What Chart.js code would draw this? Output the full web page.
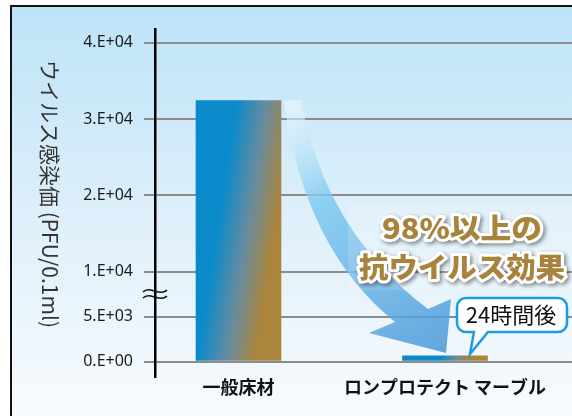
<!DOCTYPE html>
<html lang="ja">
<head>
<meta charset="utf-8">
<title>ウイルス感染価</title>
<script src="https://cdn.jsdelivr.net/npm/chart.js@4/dist/chart.umd.min.js"></script>
<style>
  html, body { margin: 0; padding: 0; background: #fff; }
  #chart { display: block; }
</style>
</head>
<body>
<canvas id="chart" width="572" height="416"></canvas>
<script>
const categories = ['一般床材', 'ロンプロテクト マーブル'];
const virusTiter = [32400, 620];
const tickValues = [0, 5000, 10000, 20000, 30000, 40000];
const tickLabels = ['0.E+00', '5.E+03', '1.E+04', '2.E+04', '3.E+04', '4.E+04'];
const yTitle = 'ウイルス感染価 (PFU/0.1ml)';
const calloutLines = ['98%以上の', '抗ウイルス効果'];
const bubbleText = '24時間後';

// broken axis: the part below 1.E+04 is drawn a bit stretched
const BREAK_AT = 10000;
const LOW_UNITS = 1.18;
function toAxis(v) {
  return v <= BREAK_AT ? v / BREAK_AT * LOW_UNITS : LOW_UNITS + (v - BREAK_AT) / 10000;
}

const BAR_W = 85;
const JP = '"Noto Sans CJK JP", "Noto Sans", sans-serif';

function barGeom(chart, i) {
  const { x, y } = chart.scales;
  const cx = x.getPixelForValue(i + 1);
  return {
    left: cx - BAR_W / 2,
    right: cx + BAR_W / 2,
    cx: cx,
    top: y.getPixelForValue(toAxis(virusTiter[i])),
    bottom: y.getPixelForValue(0)
  };
}

// blue -> gold, along a slightly tilted diagonal
function barFill(ctx) {
  const chart = ctx.chart;
  if (!chart.chartArea || !chart.scales.x) return '#0a8acb';
  const b = barGeom(chart, ctx.dataIndex);
  const h = b.bottom - b.top;
  const x0 = b.left + 0.44 * BAR_W - 0.14 * h;
  const len = 30 + 0.107 * h;
  const g = chart.ctx.createLinearGradient(x0, b.bottom, x0 + len * 0.988, b.bottom + len * 0.152);
  g.addColorStop(0, '#0a8acb');
  g.addColorStop(0.5, '#668c9f');
  g.addColorStop(1, '#ab853c');
  return g;
}

const backdrop = {
  id: 'backdrop',
  beforeDraw(chart) {
    const c = chart.ctx;
    c.save();
    c.fillStyle = '#fff';
    c.fillRect(0, 0, chart.width, chart.height);
    const g = c.createLinearGradient(0, 6, 0, chart.height);
    g.addColorStop(0, '#bde3f8');
    g.addColorStop(0.5, '#ddeffa');
    g.addColorStop(1, '#f8fbfe');
    c.fillStyle = g;
    c.fillRect(11, 6, chart.width - 11, chart.height - 6);
    c.strokeStyle = '#111';
    c.lineWidth = 2;
    c.beginPath();
    c.moveTo(11, chart.height);
    c.lineTo(11, 6);
    c.lineTo(chart.width, 6);
    c.stroke();
    c.restore();
  }
};

const decorations = {
  id: 'decorations',
  afterDatasetsDraw(chart) {
    const c = chart.ctx;
    const y = chart.scales.y;
    const b1 = barGeom(chart, 0);
    const b2 = barGeom(chart, 1);

    // axis break mark
    const by = y.getPixelForValue(toAxis(7500));
    const ax = chart.chartArea.left;
    c.save();
    c.strokeStyle = '#111';
    c.lineWidth = 1.6;
    [-3, 3].forEach(off => {
      c.beginPath();
      c.moveTo(ax - 12, by + off + 1);
      c.bezierCurveTo(ax - 5, by + off - 6, ax + 4, by + off + 6, ax + 12, by + off - 1);
      c.stroke();
    });
    c.restore();

    // y title, turned clockwise
    c.save();
    c.translate(50, 194);
    c.rotate(Math.PI / 2);
    c.fillStyle = '#333';
    c.font = '21px ' + JP;
    c.textAlign = 'center';
    c.textBaseline = 'middle';
    c.fillText(yTitle, 0, 0);
    c.restore();

    // big curved arrow from the first bar down to the second
    const sx = b1.right, sy = b1.top, ex = b2.cx, ey = b2.top;
    c.save();
    const ag = c.createLinearGradient(sx, sy, ex, ey);
    ag.addColorStop(0, 'rgba(255,255,255,0.5)');
    ag.addColorStop(0.35, 'rgba(120,200,240,0.8)');
    ag.addColorStop(1, 'rgba(75,150,215,0.85)');
    c.fillStyle = ag;
    c.beginPath();
    c.moveTo(sx + 3, sy);
    c.quadraticCurveTo(sx + 23, sy + 148, ex - 50, ey - 34);
    c.lineTo(ex - 76, ey - 23);
    c.lineTo(ex + 1, ey - 3);
    c.lineTo(ex + 6, ey - 57);
    c.lineTo(ex - 17, ey - 47);
    c.quadraticCurveTo(sx + 44, sy + 131, sx + 20, sy - 1);
    c.closePath();
    c.fill();
    c.restore();

    // faint panel behind the callout
    c.save();
    c.fillStyle = 'rgba(255,255,255,0.15)';
    c.fillRect(348, 206, chart.width - 348, 84);
    c.restore();

    // callout text
    const widths = [160, 206];
    const centersY = [228, 267];
    c.save();
    c.font = '900 28px ' + JP;
    c.textAlign = 'center';
    c.textBaseline = 'middle';
    c.lineJoin = 'round';
    calloutLines.forEach((t, i) => {
      const sxScale = widths[i] / c.measureText(t).width;
      c.save();
      c.translate(462, centersY[i]);
      c.scale(sxScale, 1);
      c.shadowColor = 'rgba(0,0,0,0.45)';
      c.shadowBlur = 4;
      c.shadowOffsetX = 2;
      c.shadowOffsetY = 2;
      c.strokeStyle = '#fff';
      c.lineWidth = 6;
      c.strokeText(t, 0, 0);
      c.shadowColor = 'transparent';
      c.fillStyle = '#a8833c';
      c.fillText(t, 0, 0);
      c.restore();
    });
    c.restore();

    // speech bubble
    c.save();
    const bx = 457, btop = 298, bw = 110, bh = 34, r = 9;
    c.beginPath();
    c.moveTo(bx + r, btop);
    c.lineTo(bx + bw - r, btop);
    c.arcTo(bx + bw, btop, bx + bw, btop + r, r);
    c.lineTo(bx + bw, btop + bh - r);
    c.arcTo(bx + bw, btop + bh, bx + bw - r, btop + bh, r);
    c.lineTo(bx + 31, btop + bh);
    c.lineTo(b2.cx + 25, b2.top - 2);
    c.lineTo(bx + 17, btop + bh);
    c.lineTo(bx + r, btop + bh);
    c.arcTo(bx, btop + bh, bx, btop + bh - r, r);
    c.lineTo(bx, btop + r);
    c.arcTo(bx, btop, bx + r, btop, r);
    c.closePath();
    c.fillStyle = '#fff';
    c.fill();
    c.strokeStyle = '#1b9ce0';
    c.lineWidth = 2.5;
    c.stroke();
    c.fillStyle = '#111';
    c.font = '22px ' + JP;
    c.textAlign = 'center';
    c.textBaseline = 'middle';
    c.fillText(bubbleText, bx + bw / 2 - 1, btop + bh / 2);
    c.restore();
  }
};

new Chart(document.getElementById('chart'), {
  type: 'bar',
  data: {
    datasets: [{
      data: virusTiter.map((v, i) => ({ x: i + 1, y: toAxis(v) })),
      backgroundColor: barFill,
      barThickness: BAR_W,
      borderWidth: 0
    }]
  },
  options: {
    responsive: false,
    animation: false,
    devicePixelRatio: 1,
    layout: { padding: { top: 29, left: 0, right: 0, bottom: 0 } },
    plugins: { legend: { display: false }, tooltip: { enabled: false } },
    scales: {
      x: {
        type: 'linear',
        offset: false,
        min: 1 - 83.5 / 206.5,
        max: 2 + 127 / 206.5,
        grid: { display: false, offset: false },
        border: { display: false },
        afterBuildTicks: s => { s.ticks = categories.map((_, i) => ({ value: i + 1 })); },
        afterFit: s => { s.height = 39; },
        ticks: {
          padding: -9,
          maxRotation: 0,
          color: '#111',
          font: { family: JP, size: 18, weight: 'bold' },
          callback: v => categories[v - 1]
        }
      },
      y: {
        min: -0.203,
        max: 4.36,
        grid: { color: '#8c8c8c', lineWidth: 2, tickLength: 11, drawTicks: true },
        border: { color: '#000', width: 2.5 },
        afterBuildTicks: s => { s.ticks = tickValues.map(v => ({ value: toAxis(v) })); },
        afterFit: s => { s.width = 155; },
        ticks: {
          padding: 11,
          color: '#1a1a1a',
          font: { family: '"Noto Sans", sans-serif', size: 16 },
          callback: (v, i) => tickLabels[i]
        }
      }
    }
  },
  plugins: [backdrop, decorations]
});
</script>
</body>
</html>
